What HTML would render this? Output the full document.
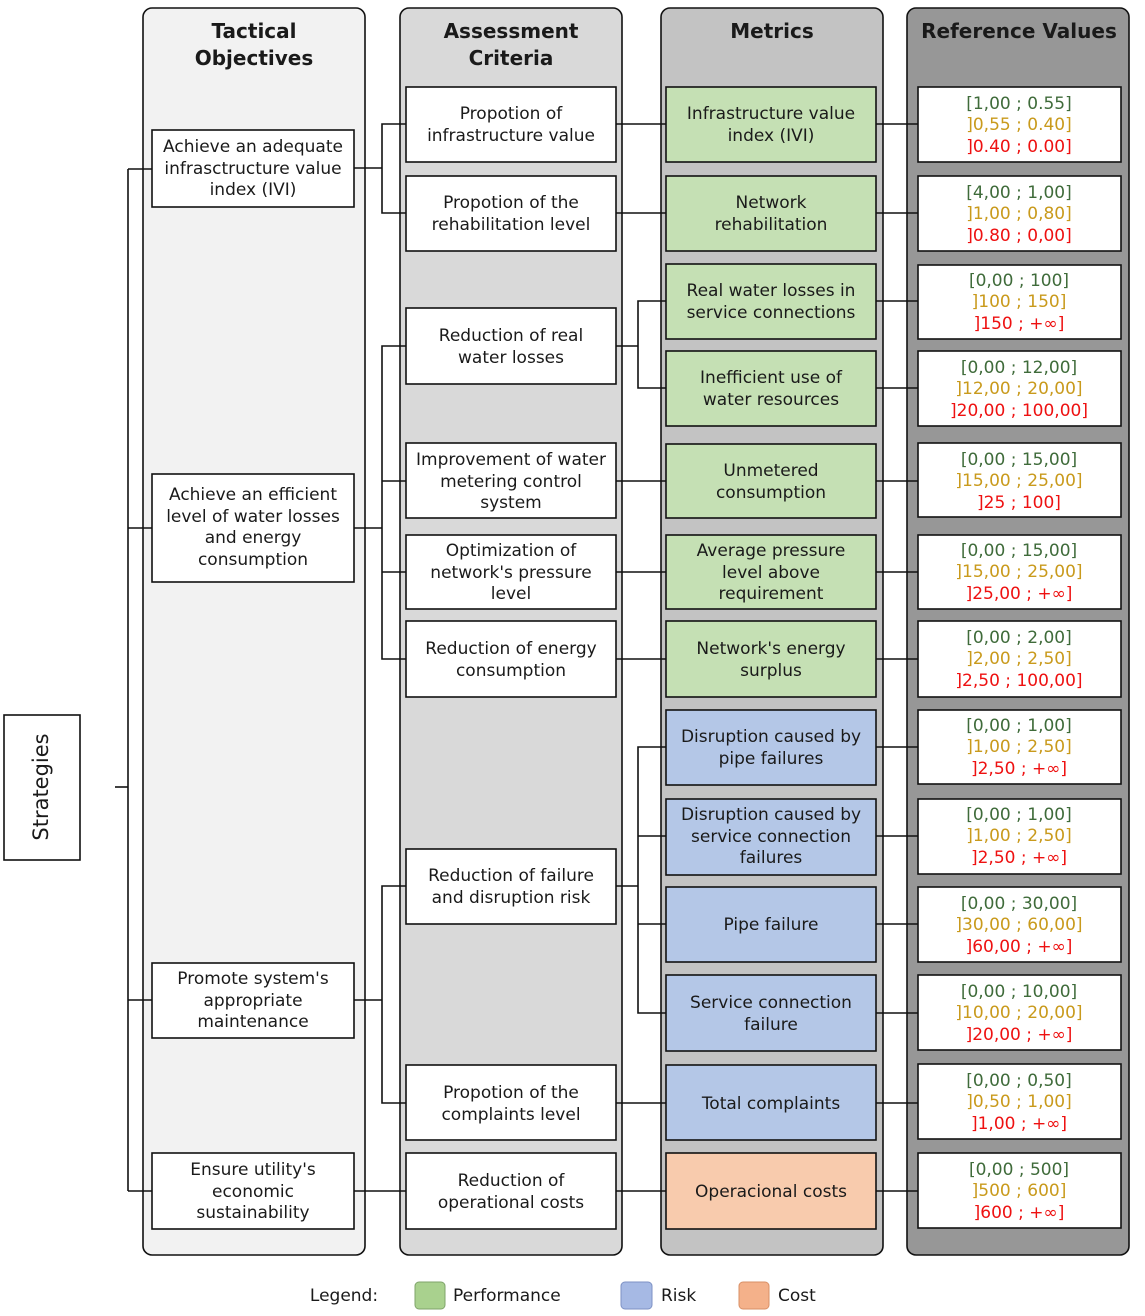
<!DOCTYPE html>
<html><head><meta charset="utf-8"><style>
html,body{margin:0;padding:0;background:#fff;}
svg{display:block;font-family:"DejaVu Sans","Liberation Sans",sans-serif;}
text{font-size:17px;fill:#1a1a1a;text-anchor:middle;}
.h{font-weight:bold;font-size:20px;}
.g{fill:#3f6b3a}.o{fill:#c99a1c}.r{fill:#ee1111}
.w{fill:#fff;stroke:#111;stroke-width:1.6}
.gr{fill:#c5e0b4;stroke:#111;stroke-width:1.6}
.bl{fill:#b4c7e7;stroke:#111;stroke-width:1.6}
.or{fill:#f8cbad;stroke:#111;stroke-width:1.6}
line,polyline{stroke:#111;stroke-width:1.6;fill:none}
</style></head><body>
<svg width="1145" height="1316" viewBox="0 0 1145 1316">
<rect x="143" y="8" width="222" height="1247" rx="9" fill="#f2f2f2" stroke="#111" stroke-width="1.6"/>
<rect x="400" y="8" width="222" height="1247" rx="9" fill="#d9d9d9" stroke="#111" stroke-width="1.6"/>
<rect x="661" y="8" width="222" height="1247" rx="9" fill="#c3c3c3" stroke="#111" stroke-width="1.6"/>
<rect x="907" y="8" width="222" height="1247" rx="9" fill="#979797" stroke="#111" stroke-width="1.6"/>
<text class="h" x="254" y="38">Tactical</text><text class="h" x="254" y="65">Objectives</text>
<text class="h" x="511" y="38">Assessment</text><text class="h" x="511" y="65">Criteria</text>
<text class="h" x="772" y="38">Metrics</text>
<text class="h" x="1019" y="38">Reference Values</text>

<line x1="115" y1="787" x2="128" y2="787"/>
<line x1="128" y1="169" x2="128" y2="1191"/>
<line x1="128" y1="169" x2="152" y2="169"/>
<line x1="128" y1="528" x2="152" y2="528"/>
<line x1="128" y1="1000" x2="152" y2="1000"/>
<line x1="128" y1="1191" x2="152" y2="1191"/>
<line x1="354" y1="168" x2="382" y2="168"/>
<polyline points="406,124 382,124 382,213 406,213"/>
<line x1="354" y1="528" x2="382" y2="528"/>
<polyline points="406,346 382,346 382,659 406,659"/>
<line x1="382" y1="481" x2="406" y2="481"/>
<line x1="382" y1="572" x2="406" y2="572"/>
<line x1="354" y1="1000" x2="382" y2="1000"/>
<polyline points="406,886 382,886 382,1103 406,1103"/>
<line x1="354" y1="1191" x2="406" y2="1191"/>
<line x1="616" y1="124" x2="666" y2="124"/>
<line x1="616" y1="213" x2="666" y2="213"/>
<line x1="616" y1="346" x2="638" y2="346"/>
<polyline points="666,301 638,301 638,388 666,388"/>
<line x1="616" y1="481" x2="666" y2="481"/>
<line x1="616" y1="572" x2="666" y2="572"/>
<line x1="616" y1="659" x2="666" y2="659"/>
<line x1="616" y1="886" x2="638" y2="886"/>
<polyline points="666,747 638,747 638,1013 666,1013"/>
<line x1="638" y1="836" x2="666" y2="836"/>
<line x1="638" y1="924" x2="666" y2="924"/>
<line x1="616" y1="1103" x2="666" y2="1103"/>
<line x1="616" y1="1191" x2="666" y2="1191"/>
<line x1="876" y1="124" x2="918" y2="124"/>
<line x1="876" y1="213" x2="918" y2="213"/>
<line x1="876" y1="301" x2="918" y2="301"/>
<line x1="876" y1="388" x2="918" y2="388"/>
<line x1="876" y1="481" x2="918" y2="481"/>
<line x1="876" y1="572" x2="918" y2="572"/>
<line x1="876" y1="659" x2="918" y2="659"/>
<line x1="876" y1="747" x2="918" y2="747"/>
<line x1="876" y1="836" x2="918" y2="836"/>
<line x1="876" y1="924" x2="918" y2="924"/>
<line x1="876" y1="1013" x2="918" y2="1013"/>
<line x1="876" y1="1103" x2="918" y2="1103"/>
<line x1="876" y1="1191" x2="918" y2="1191"/>

<rect class="w" x="4" y="715" width="76" height="145"/>
<text x="0" y="0" transform="translate(48,787) rotate(-90)" style="font-size:21px">Strategies</text>

<rect class="w" x="152" y="130" width="202" height="77"/>
<text x="253" y="152">Achieve an adequate</text><text x="253" y="174">infrasctructure value</text><text x="253" y="195">index (IVI)</text>
<rect class="w" x="152" y="474" width="202" height="108"/>
<text x="253" y="500">Achieve an efficient</text><text x="253" y="522">level of water losses</text><text x="253" y="543">and energy</text><text x="253" y="565">consumption</text>
<rect class="w" x="152" y="963" width="202" height="75"/>
<text x="253" y="984">Promote system's</text><text x="253" y="1006">appropriate</text><text x="253" y="1027">maintenance</text>
<rect class="w" x="152" y="1153" width="202" height="76"/>
<text x="253" y="1175">Ensure utility's</text><text x="253" y="1197">economic</text><text x="253" y="1218">sustainability</text>

<rect class="w" x="406" y="87" width="210" height="75"/><text x="511" y="119">Propotion of</text><text x="511" y="141">infrastructure value</text>
<rect class="w" x="406" y="176" width="210" height="75"/><text x="511" y="208">Propotion of the</text><text x="511" y="230">rehabilitation level</text>
<rect class="w" x="406" y="308" width="210" height="76"/><text x="511" y="341">Reduction of real</text><text x="511" y="363">water losses</text>
<rect class="w" x="406" y="443" width="210" height="75"/><text x="511" y="465">Improvement of water</text><text x="511" y="487">metering control</text><text x="511" y="508">system</text>
<rect class="w" x="406" y="535" width="210" height="74"/><text x="511" y="556">Optimization of</text><text x="511" y="578">network's pressure</text><text x="511" y="599">level</text>
<rect class="w" x="406" y="621" width="210" height="76"/><text x="511" y="654">Reduction of energy</text><text x="511" y="676">consumption</text>
<rect class="w" x="406" y="849" width="210" height="75"/><text x="511" y="881">Reduction of failure</text><text x="511" y="903">and disruption risk</text>
<rect class="w" x="406" y="1065" width="210" height="75"/><text x="511" y="1098">Propotion of the</text><text x="511" y="1120">complaints level</text>
<rect class="w" x="406" y="1153" width="210" height="76"/><text x="511" y="1186">Reduction of</text><text x="511" y="1208">operational costs</text>

<rect class="gr" x="666" y="87" width="210" height="75"/><text x="771" y="119">Infrastructure value</text><text x="771" y="141">index (IVI)</text>
<rect class="gr" x="666" y="176" width="210" height="75"/><text x="771" y="208">Network</text><text x="771" y="230">rehabilitation</text>
<rect class="gr" x="666" y="264" width="210" height="75"/><text x="771" y="296">Real water losses in</text><text x="771" y="318">service connections</text>
<rect class="gr" x="666" y="351" width="210" height="75"/><text x="771" y="383">Inefficient use of</text><text x="771" y="405">water resources</text>
<rect class="gr" x="666" y="444" width="210" height="74"/><text x="771" y="476">Unmetered</text><text x="771" y="498">consumption</text>
<rect class="gr" x="666" y="535" width="210" height="74"/><text x="771" y="556">Average pressure</text><text x="771" y="578">level above</text><text x="771" y="599">requirement</text>
<rect class="gr" x="666" y="621" width="210" height="76"/><text x="771" y="654">Network's energy</text><text x="771" y="676">surplus</text>
<rect class="bl" x="666" y="710" width="210" height="75"/><text x="771" y="742">Disruption caused by</text><text x="771" y="764">pipe failures</text>
<rect class="bl" x="666" y="799" width="210" height="76"/><text x="771" y="820">Disruption caused by</text><text x="771" y="842">service connection</text><text x="771" y="863">failures</text>
<rect class="bl" x="666" y="887" width="210" height="75"/><text x="771" y="930">Pipe failure</text>
<rect class="bl" x="666" y="975" width="210" height="76"/><text x="771" y="1008">Service connection</text><text x="771" y="1030">failure</text>
<rect class="bl" x="666" y="1065" width="210" height="75"/><text x="771" y="1109">Total complaints</text>
<rect class="or" x="666" y="1153" width="210" height="76"/><text x="771" y="1197">Operacional costs</text>

<g>
<rect class="w" x="918" y="87" width="203" height="75"/><text class="g" x="1019" y="109">[1,00 ; 0.55]</text><text class="o" x="1019" y="130">]0,55 ; 0.40]</text><text class="r" x="1019" y="152">]0.40 ; 0.00]</text>
<rect class="w" x="918" y="176" width="203" height="75"/><text class="g" x="1019" y="198">[4,00 ; 1,00]</text><text class="o" x="1019" y="219">]1,00 ; 0,80]</text><text class="r" x="1019" y="241">]0.80 ; 0,00]</text>
<rect class="w" x="918" y="265" width="203" height="74"/><text class="g" x="1019" y="286">[0,00 ; 100]</text><text class="o" x="1019" y="307">]100 ; 150]</text><text class="r" x="1019" y="329">]150 ; +∞]</text>
<rect class="w" x="918" y="351" width="203" height="75"/><text class="g" x="1019" y="373">[0,00 ; 12,00]</text><text class="o" x="1019" y="394">]12,00 ; 20,00]</text><text class="r" x="1019" y="416">]20,00 ; 100,00]</text>
<rect class="w" x="918" y="443" width="203" height="74"/><text class="g" x="1019" y="465">[0,00 ; 15,00]</text><text class="o" x="1019" y="486">]15,00 ; 25,00]</text><text class="r" x="1019" y="508">]25 ; 100]</text>
<rect class="w" x="918" y="535" width="203" height="74"/><text class="g" x="1019" y="556">[0,00 ; 15,00]</text><text class="o" x="1019" y="577">]15,00 ; 25,00]</text><text class="r" x="1019" y="599">]25,00 ; +∞]</text>
<rect class="w" x="918" y="621" width="203" height="76"/><text class="g" x="1019" y="643">[0,00 ; 2,00]</text><text class="o" x="1019" y="664">]2,00 ; 2,50]</text><text class="r" x="1019" y="686">]2,50 ; 100,00]</text>
<rect class="w" x="918" y="710" width="203" height="74"/><text class="g" x="1019" y="731">[0,00 ; 1,00]</text><text class="o" x="1019" y="752">]1,00 ; 2,50]</text><text class="r" x="1019" y="774">]2,50 ; +∞]</text>
<rect class="w" x="918" y="799" width="203" height="75"/><text class="g" x="1019" y="820">[0,00 ; 1,00]</text><text class="o" x="1019" y="841">]1,00 ; 2,50]</text><text class="r" x="1019" y="863">]2,50 ; +∞]</text>
<rect class="w" x="918" y="887" width="203" height="75"/><text class="g" x="1019" y="909">[0,00 ; 30,00]</text><text class="o" x="1019" y="930">]30,00 ; 60,00]</text><text class="r" x="1019" y="952">]60,00 ; +∞]</text>
<rect class="w" x="918" y="975" width="203" height="75"/><text class="g" x="1019" y="997">[0,00 ; 10,00]</text><text class="o" x="1019" y="1018">]10,00 ; 20,00]</text><text class="r" x="1019" y="1040">]20,00 ; +∞]</text>
<rect class="w" x="918" y="1064" width="203" height="75"/><text class="g" x="1019" y="1086">[0,00 ; 0,50]</text><text class="o" x="1019" y="1107">]0,50 ; 1,00]</text><text class="r" x="1019" y="1129">]1,00 ; +∞]</text>
<rect class="w" x="918" y="1153" width="203" height="75"/><text class="g" x="1019" y="1175">[0,00 ; 500]</text><text class="o" x="1019" y="1196">]500 ; 600]</text><text class="r" x="1019" y="1218">]600 ; +∞]</text>
</g>

<text x="344" y="1301">Legend:</text>
<rect x="415" y="1282" width="30" height="27" rx="4" fill="#a9d18e" stroke="#7fa46a" stroke-width="1"/>
<text x="453" y="1301" style="text-anchor:start">Performance</text>
<rect x="621" y="1282" width="31" height="27" rx="4" fill="#a6b9e4" stroke="#7d91c4" stroke-width="1"/>
<text x="661" y="1301" style="text-anchor:start">Risk</text>
<rect x="739" y="1282" width="30" height="27" rx="4" fill="#f4b18a" stroke="#d99066" stroke-width="1"/>
<text x="778" y="1301" style="text-anchor:start">Cost</text>
</svg>
</body></html>
